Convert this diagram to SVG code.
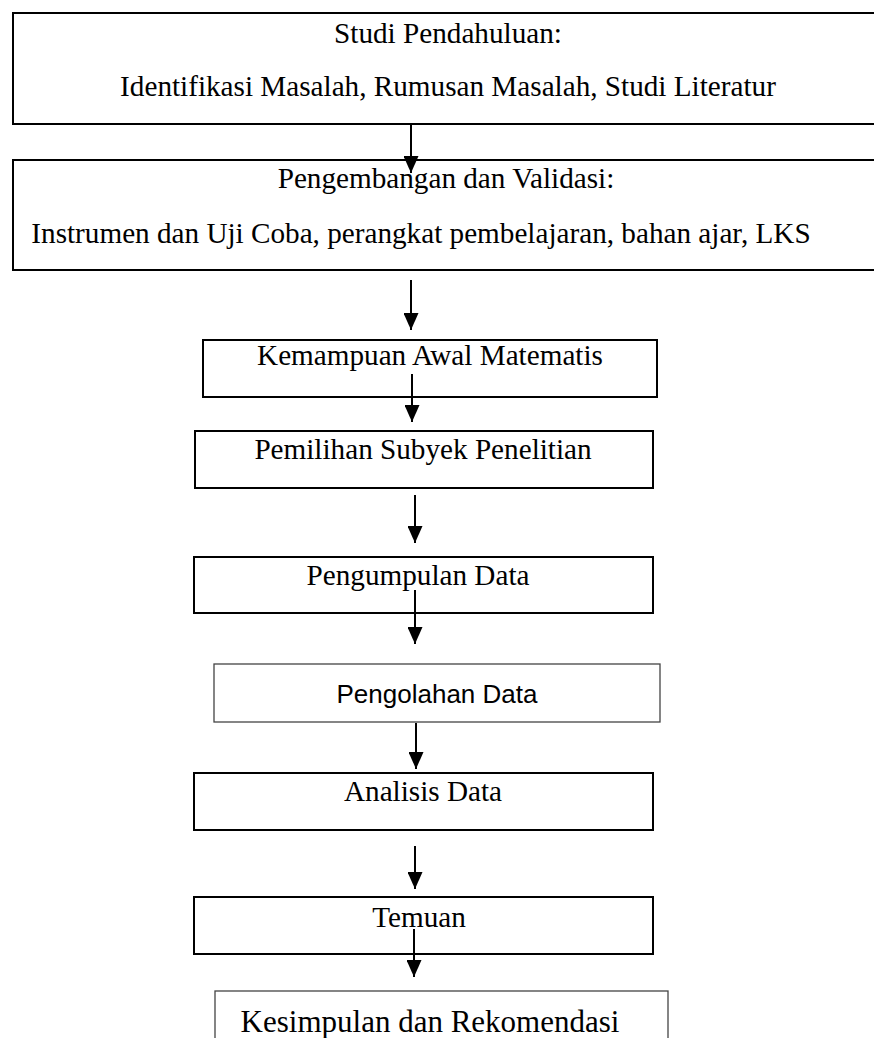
<svg xmlns="http://www.w3.org/2000/svg" width="874" height="1038" viewBox="0 0 874 1038">
<defs>
<style>
.box{fill:#fff;stroke:#000;stroke-width:2}
.thin{fill:#fff;stroke:#444;stroke-width:1.3}
.t{font-family:"Liberation Serif","Times New Roman",serif;font-size:29.2px;fill:#000;text-anchor:middle}
.s{font-family:"Liberation Sans",Arial,sans-serif;font-size:26px;fill:#000;text-anchor:middle}
.arr{stroke:#000;stroke-width:2;fill:none;marker-end:url(#ah)}
</style>
<marker id="ah" markerUnits="userSpaceOnUse" markerWidth="17" markerHeight="15" refX="17" refY="7.5" orient="auto" viewBox="0 0 17 15">
<path d="M0,0 L17,7.5 L0,15 Z" fill="#000"/>
</marker>
</defs>
<rect width="874" height="1038" fill="#fff"/>
<g id="n1"><rect class="box" x="13" y="13" width="880" height="111"/>
<text class="t" x="448" y="43">Studi Pendahuluan:</text>
<text class="t" x="448" y="96">Identifikasi Masalah, Rumusan Masalah, Studi Literatur</text></g>
<g id="n2"><rect class="box" x="13" y="160" width="880" height="110"/>
<text class="t" x="446" y="188">Pengembangan dan Validasi:</text>
<text class="t" x="421" y="243">Instrumen dan Uji Coba, perangkat pembelajaran, bahan ajar, LKS</text></g>
<g id="n3"><rect class="box" x="203" y="340" width="454" height="57"/>
<text class="t" x="430" y="365">Kemampuan Awal Matematis</text></g>
<g id="n4"><rect class="box" x="195" y="431" width="458" height="57"/>
<text class="t" x="423" y="459">Pemilihan Subyek Penelitian</text></g>
<g id="n5"><rect class="box" x="194" y="557" width="459" height="56"/>
<text class="t" x="418" y="585">Pengumpulan Data</text></g>
<g id="n6"><rect class="thin" x="214" y="664" width="446" height="58"/>
<text class="s" x="437" y="703">Pengolahan Data</text></g>
<g id="n7"><rect class="box" x="194" y="773" width="459" height="57"/>
<text class="t" x="423" y="801">Analisis Data</text></g>
<g id="n8"><rect class="box" x="194" y="897" width="459" height="57"/>
<text class="t" x="419" y="927">Temuan</text></g>
<g id="n9"><rect class="thin" x="215" y="991" width="453" height="70"/>
<text class="t" x="430" y="1032" style="font-size:31px">Kesimpulan dan Rekomendasi</text></g>
<g id="connectors">
<line class="arr" x1="411" y1="124" x2="411" y2="173"/>
<line class="arr" x1="411" y1="280" x2="411" y2="330"/>
<line class="arr" x1="412" y1="374" x2="412" y2="422"/>
<line class="arr" x1="415" y1="495" x2="415" y2="543"/>
<line class="arr" x1="415" y1="590" x2="415" y2="644"/>
<line class="arr" x1="416" y1="723" x2="416" y2="769"/>
<line class="arr" x1="415" y1="846" x2="415" y2="889"/>
<line class="arr" x1="414" y1="929" x2="414" y2="977"/>
</g>
</svg>
